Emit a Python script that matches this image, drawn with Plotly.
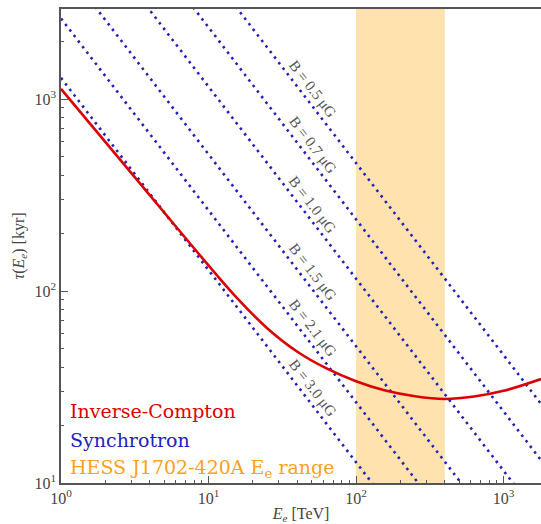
import plotly.graph_objects as go
import numpy as np

# ---- data ----
ic_E = [1, 3.16, 10, 15.8, 25.1, 39.8, 63.1, 100, 158, 251, 398, 631, 1000, 1795]
ic_tau = [1130, 392, 136, 91.0, 63.8, 48.4, 39.5, 33.9, 30.3, 28.3, 27.4, 28.2, 30.2, 34.8]

sync_B = ["0.5", "0.7", "1.0", "1.5", "2.1", "3.0"]
sync_E = [1, 2000]
sync_tau = {
    "0.5": [46400, 23.2],
    "0.7": [23670, 11.8],
    "1.0": [11600, 5.8],
    "1.5": [5156, 2.58],
    "2.1": [2630, 1.32],
    "3.0": [1289, 0.64],
}

band_E = [100, 400]

x_ticks = [1, 10, 100, 1000]
x_ticktext = ["10<sup>0</sup>", "10<sup>1</sup>", "10<sup>2</sup>", "10<sup>3</sup>"]
y_ticks = [10, 100, 1000]
y_ticktext = ["10<sup>1</sup>", "10<sup>2</sup>", "10<sup>3</sup>"]

label_E = 51  # energy where the B labels sit

RED = "#dd0000"
BLUE = "#2222bb"
ORANGE = "#ffa020"
SERIF = "DejaVu Serif"

fig = go.Figure()

for b in sync_B:
    fig.add_trace(go.Scatter(
        x=sync_E, y=sync_tau[b], mode="lines",
        line=dict(color=BLUE, width=2.6, dash="2.5px,4.5px"),
        showlegend=False, hoverinfo="skip"))

fig.add_trace(go.Scatter(
    x=ic_E, y=ic_tau, mode="lines",
    line=dict(color=RED, width=2.6, shape="spline", smoothing=1.0),
    showlegend=False))

fig.add_shape(type="rect", xref="x", yref="paper",
              x0=band_E[0], x1=band_E[1], y0=0, y1=1,
              fillcolor="rgba(255,165,0,0.32)", line_width=0, layer="below")

# labels along the synchrotron lines
for b in sync_B:
    t0, t1 = sync_tau[b]
    lt = np.log10(t0) + (np.log10(t1) - np.log10(t0)) * (np.log10(label_E) - np.log10(sync_E[0])) / (np.log10(sync_E[1]) - np.log10(sync_E[0]))
    fig.add_annotation(x=np.log10(label_E), y=lt, xref="x", yref="y",
                       text=f"B = {b} μG", showarrow=False, textangle=52.5,
                       font=dict(family="Liberation Serif", size=15, color="#555555"),
                       xshift=0, yshift=18)

legend_items = [("Inverse-Compton", RED, 0.152),
                ("Synchrotron", BLUE, 0.0907),
                ("HESS J1702-420A E<sub>e</sub> range", ORANGE, 0.0316)]
for txt, col, yy in legend_items:
    fig.add_annotation(x=0.0146, y=yy, xref="paper", yref="paper",
                       xanchor="left", yanchor="middle", text=txt, showarrow=False,
                       font=dict(family=SERIF, size=19, color=col))

minor_x = [m * 10 ** d for d in range(0, 4) for m in range(2, 10)]
minor_y = [m * 10 ** d for d in range(1, 4) for m in range(2, 10)]

axis_common = dict(showline=True, linecolor="#555555", linewidth=1.5,
                   ticks="inside", ticklen=7, tickcolor="#555555", showgrid=False,
                   zeroline=False, tickfont=dict(family="Liberation Serif", size=16, color="#444444"))

fig.update_xaxes(type="log", range=[0, 3.254], tickvals=x_ticks, ticktext=x_ticktext,
                 mirror=True,
                 minor=dict(ticks="inside", ticklen=3, tickcolor="#555555", tickvals=minor_x, showgrid=False),
                 title=dict(text="<i>E<sub>e</sub></i> [TeV]", font=dict(family="Liberation Serif", size=16, color="#444444"), standoff=4),
                 **axis_common)
fig.update_yaxes(type="log", range=[1, 3.469], tickvals=y_ticks, ticktext=y_ticktext,
                 minor=dict(ticks="inside", ticklen=3, tickcolor="#555555", tickvals=minor_y, showgrid=False),
                 title=dict(text="<i>τ</i>(<i>E<sub>e</sub></i>) [kyr]", font=dict(family="Liberation Serif", size=16, color="#444444"), standoff=6),
                 **axis_common)

fig.update_layout(width=541, height=524, margin=dict(l=61, r=0, t=9, b=41),
                  plot_bgcolor="white", paper_bgcolor="white", showlegend=False)

fig.write_html("out.html")
